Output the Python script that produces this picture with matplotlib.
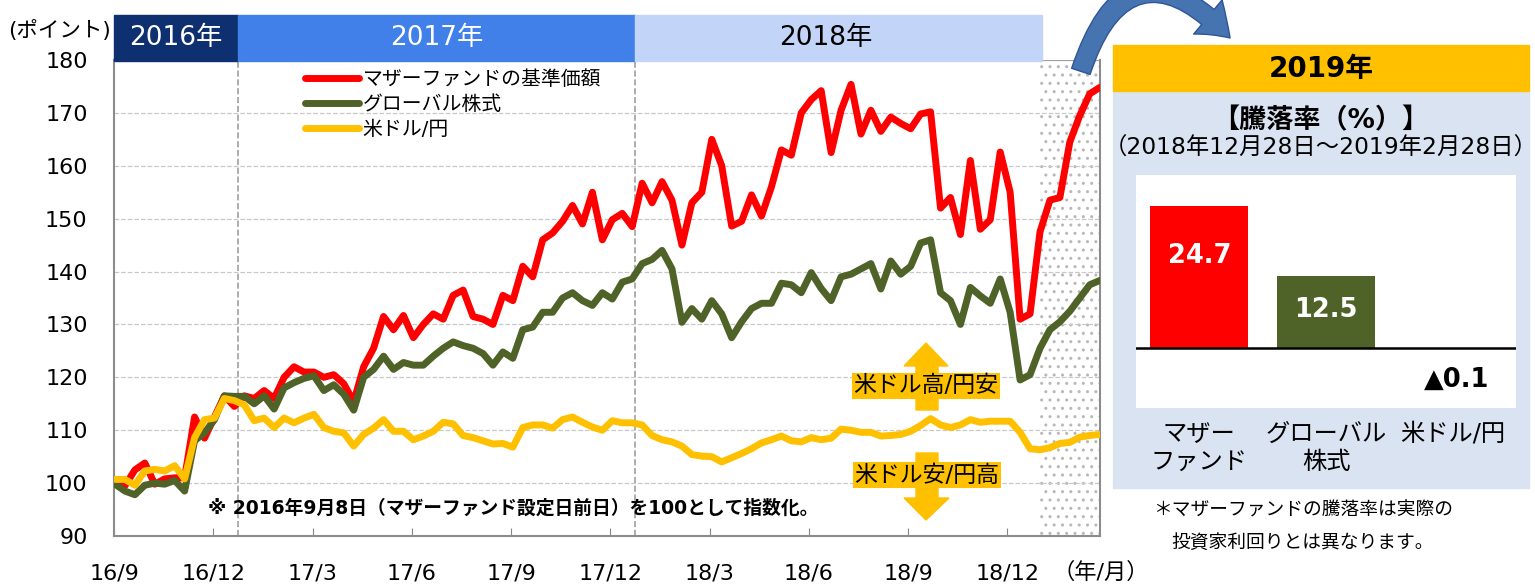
import numpy as np
import matplotlib.pyplot as plt
from matplotlib.patches import Rectangle, Polygon, FancyArrowPatch

plt.rcParams['font.family'] = ['DejaVu Sans', 'Noto Sans CJK JP']

W, H = 1535, 587


def px(x, y):
    # pixel position in the picture -> figure fraction
    return x / W, 1 - y / H


# ---- data (index, 2016/9/8 = 100), read about every 10 px from the reference
mother_fund = [
    100.3, 99.5, 102.5, 103.8, 99.8, 100.8, 101.0, 101.0, 112.5, 108.5,
    112.5, 116.5, 114.5, 116.5, 116.0, 117.5, 116.0, 120.0, 122.0, 121.0,
    121.0, 120.0, 120.5, 118.8, 115.4, 122.0, 125.5, 131.5, 129.0, 131.7,
    127.5, 130.0, 132.0, 131.0, 135.5, 136.5, 131.5, 131.0, 130.0, 135.5,
    134.5, 141.0, 139.0, 146.0, 147.3, 149.5, 152.5, 149.0, 155.0, 146.0,
    149.8, 151.0, 148.5, 156.7, 153.0, 157.0, 153.5, 145.0, 153.0, 155.0,
    165.0, 160.0, 148.6, 149.5, 154.5, 150.5, 156.0, 163.0, 162.0, 170.0,
    172.5, 174.2, 162.5, 170.5, 175.4, 166.0, 170.5, 166.5, 169.2, 168.0,
    167.0, 169.8, 170.2, 152.0, 154.0, 147.0, 161.0, 148.0, 149.8, 162.6,
    155.0, 131.0, 132.0, 147.5, 153.5, 154.0, 164.5, 169.5, 173.6, 174.8,
]
global_stock = [
    99.8, 98.5, 97.8, 99.6, 100.0, 99.8, 100.5, 98.5, 108.0, 109.5,
    112.0, 116.5, 116.4, 116.4, 115.0, 116.5, 114.0, 118.0, 119.0, 119.8,
    120.3, 117.5, 118.6, 116.8, 113.8, 120.0, 121.5, 124.0, 121.5, 122.8,
    122.3, 122.3, 124.0, 125.5, 126.7, 126.0, 125.5, 124.5, 122.3, 124.8,
    123.6, 129.0, 129.5, 132.3, 132.3, 135.0, 136.0, 134.5, 133.6, 136.0,
    134.8, 138.0, 138.6, 141.5, 142.3, 144.0, 140.5, 130.4, 133.0, 131.0,
    134.5, 132.0, 127.5, 130.5, 133.0, 134.0, 134.0, 137.8, 137.5, 136.0,
    139.8, 136.8, 134.5, 139.0, 139.5, 140.5, 141.5, 136.7, 142.0, 139.5,
    141.0, 145.4, 146.0, 136.0, 134.5, 130.0, 137.0, 135.4, 134.0, 138.6,
    132.3, 119.5, 120.5, 125.5, 129.0, 130.5, 132.5, 135.0, 137.5, 138.3,
]
usd_jpy = [
    100.7, 100.7, 99.6, 102.3, 102.6, 102.3, 103.3, 100.8, 108.6, 112.0,
    112.3, 116.0, 115.6, 114.8, 111.8, 112.3, 110.5, 112.3, 111.4, 112.3,
    113.0, 110.5, 109.8, 109.5, 107.0, 109.2, 110.4, 112.0, 109.8, 109.8,
    108.2, 108.9, 109.8, 111.5, 111.2, 109.0, 108.6, 108.0, 107.4, 107.5,
    106.8, 110.5, 111.0, 111.0, 110.4, 112.0, 112.5, 111.5, 110.6, 110.0,
    111.8, 111.4, 111.4, 111.0, 109.0, 108.2, 107.8, 107.0, 105.4, 105.1,
    105.0, 104.0, 104.8, 105.6, 106.5, 107.6, 108.2, 108.9, 108.0, 107.8,
    108.6, 108.2, 108.5, 110.2, 110.0, 109.6, 109.6, 108.9, 109.0, 109.2,
    109.8, 110.9, 112.2, 111.0, 110.5, 111.0, 112.0, 111.5, 111.7, 111.7,
    111.7, 109.6, 106.5, 106.3, 106.7, 107.5, 107.7, 108.7, 109.0, 109.2,
]
series_names = ['マザーファンドの基準価額', 'グローバル株式', '米ドル/円']
series_colors = ['#FF0000', '#4F6228', '#FFC000']

month_labels = ['16/9', '16/12', '17/3', '17/6', '17/9', '17/12',
                '18/3', '18/6', '18/9', '18/12']
years = ['2016年', '2017年', '2018年']
year_edges = [0, 3.75, 15.75, 28.05]          # months since 2016/9/8
year_colors = ['#0E3070', '#4080E8', '#C2D5F8']
year_text = ['white', 'white', 'black']
recent_start = 27.95                           # 2018/12/28

bar_names = ['マザー\nファンド', 'グローバル\n株式', '米ドル/円']
bar_values = [24.7, 12.5, -0.1]
bar_colors = ['#FF0000', '#4F6228', '#FFC000']

# ---- figure
fig = plt.figure(figsize=(W / 100, H / 100), dpi=100)
ax = fig.add_axes([114 / W, 1 - 536 / H, (1100 - 114) / W, (536 - 60) / H])

x = np.linspace(0.03, 29.79, len(mother_fund))
for vals, name, col in zip([mother_fund, global_stock, usd_jpy], series_names, series_colors):
    ax.plot(x, vals, color=col, lw=5, label=name, zorder=3,
            solid_capstyle='round', solid_joinstyle='round')

ax.set_xlim(0, 29.8)
ax.set_ylim(90, 180)
ax.set_yticks(range(90, 181, 10))
ax.set_xticks(np.arange(0, 3 * len(month_labels), 3))
ax.set_xticklabels(month_labels)
ax.tick_params(axis='x', direction='in', length=6, color='#888888', labelsize=16, pad=20)
ax.tick_params(axis='y', length=0, labelsize=16, pad=19)
ax.grid(axis='y', ls='--', color='#c8c8c8', lw=0.9)
ax.set_axisbelow(True)
for s in ['left', 'bottom', 'right']:
    ax.spines[s].set_color('#8c8c8c')
    ax.spines[s].set_linewidth(1.5)
ax.spines['top'].set_visible(False)

# year boundary lines and the 2019 period
for xe in year_edges[1:3]:
    ax.axvline(xe, color='#a0a0a0', ls='--', lw=1.2, zorder=1)
ax.axvspan(recent_start, 29.8, facecolor='white', edgecolor='#b8b8b8',
           hatch='..', lw=0, zorder=0.5)
ax.hlines(180, recent_start, 29.8, color='#a0a0a0', lw=1.5, zorder=2)

# year header bands
tr = ax.get_xaxis_transform()
for i, name in enumerate(years):
    ax.add_patch(Rectangle((year_edges[i], 0.998), year_edges[i + 1] - year_edges[i], 0.096,
                           transform=tr, color=year_colors[i], clip_on=False, zorder=5))
    xc = (year_edges[i] + year_edges[i + 1]) / 2 - (0.4 if i == 2 else 0)
    ax.text(xc, 1.046, name, transform=tr, ha='center', va='center',
            color=year_text[i], fontsize=19, zorder=6)

ax.legend(loc='upper left', bbox_to_anchor=px(305, 70), bbox_transform=fig.transFigure,
          frameon=False, fontsize=14.3, handlelength=2.7, handletextpad=0.2,
          labelspacing=0.3, borderpad=0, borderaxespad=0)

fig.text(*px(8, 31), '(ポイント)', fontsize=15.5, ha='left', va='center')
fig.text(*px(1053, 572), '（年/月）', fontsize=16, ha='left', va='center')
fig.text(*px(208, 508), '※ 2016年9月8日（マザーファンド設定日前日）を100として指数化。',
         fontsize=13.5, fontweight='bold', ha='left', va='center')

# dollar up / down arrows
yel = '#FFC000'
up = [(926, 343), (948, 366), (938, 366), (938, 410), (916, 410), (916, 366), (904, 366)]
dn = [(916, 453), (938, 453), (938, 498), (949, 498), (926, 520), (904, 498), (916, 498)]
for pts in (up, dn):
    fig.add_artist(Polygon([px(a, b) for a, b in pts], closed=True, color=yel,
                           transform=fig.transFigure))
for (cx, cy), t in zip([(926, 386), (927, 475)], ['米ドル高/円安', '米ドル安/円高']):
    fig.text(*px(cx, cy), t, fontsize=16.5, ha='center', va='center',
             bbox=dict(boxstyle='square,pad=0.08', fc=yel, ec='none'))

# curved arrow to the 2019 panel
fig.add_artist(FancyArrowPatch(px(1080, 74), px(1232, 40), transform=fig.transFigure,
                               connectionstyle='arc3,rad=-0.85',
                               arrowstyle='simple,head_length=0.55,head_width=0.8,tail_width=0.35',
                               mutation_scale=40, fc='#4674B0', ec='#2F5597', lw=1))

# ---- 2019 panel
fig.add_artist(Rectangle(px(1113, 488), (1529 - 1113) / W, (488 - 91) / H,
                         transform=fig.transFigure, color='#DAE3F1', zorder=0))
fig.add_artist(Rectangle(px(1113, 91), (1529 - 1113) / W, (91 - 45) / H,
                         transform=fig.transFigure, color='#FFC000', zorder=0))
fig.text(*px(1321, 69), '2019年', fontsize=20, fontweight='bold', ha='center', va='center')
fig.text(*px(1321, 121), '【騰落率（%）】', fontsize=19.5, fontweight='bold',
         ha='center', va='center')
fig.text(*px(1321, 148), '（2018年12月28日～2019年2月28日）', fontsize=16.8,
         ha='center', va='center')

ax2 = fig.add_axes([1136 / W, 1 - 408 / H, (1516 - 1136) / W, (408 - 175) / H])
ax2.set_facecolor('white')
pos = np.arange(len(bar_values))
ax2.bar(pos, bar_values, width=0.775, color=bar_colors, zorder=2)
ax2.axhline(0, color='black', lw=1.8, zorder=3)
ax2.set_xlim(-0.5, 2.5)
ax2.set_ylim(-10.5, 30.2)
ax2.set_yticks([])
ax2.set_xticks(pos)
ax2.set_xticklabels(bar_names, fontsize=17.5, linespacing=1.2)
ax2.tick_params(axis='x', length=0, pad=10)
for s in ax2.spines.values():
    s.set_visible(False)
label_y = [16.1, 6.6, -5.6]
for i, v in enumerate(bar_values):
    txt = f'{v:.1f}' if v >= 0 else f'▲{abs(v):.1f}'
    ax2.text(i + (0.03 if v < 0 else 0), label_y[i], txt, ha='center', va='center',
             fontsize=18.5, fontweight='bold', color='white' if v >= 0 else 'black')

fig.text(*px(1153, 510), '＊マザーファンドの騰落率は実際の', fontsize=13.5, ha='left', va='center')
fig.text(*px(1171, 542), '投資家利回りとは異なります。', fontsize=13.5, ha='left', va='center')

fig.savefig('out.png', dpi=100)
